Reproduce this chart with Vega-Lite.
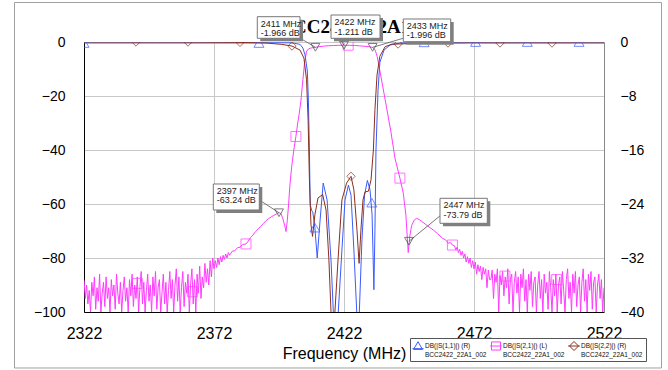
{
"$schema":"https://vega.github.io/schema/vega-lite/v6.json",
"width":520,"height":270,"autosize":"none",
"padding":{"left":84,"top":42,"right":64,"bottom":58},
"background":"white",
"config":{"view":{"stroke":"#999"},"font":"Liberation Sans"},
"datasets":{
"s21":[{"f":2322,"db":-88},{"f":2322.5,"db":-95},{"f":2323,"db":-90},{"f":2323.5,"db":-97},{"f":2324,"db":-92},{"f":2324.5,"db":-100},{"f":2325,"db":-89},{"f":2325.5,"db":-94},{"f":2326,"db":-87},{"f":2326.5,"db":-99},{"f":2327,"db":-91},{"f":2327.5,"db":-96},{"f":2328,"db":-86},{"f":2328.5,"db":-100},{"f":2329,"db":-93},{"f":2329.5,"db":-89},{"f":2330,"db":-98},{"f":2330.5,"db":-87},{"f":2331,"db":-95},{"f":2331.5,"db":-91},{"f":2332,"db":-100},{"f":2332.5,"db":-88},{"f":2333,"db":-94},{"f":2333.5,"db":-90},{"f":2334,"db":-99},{"f":2334.5,"db":-86},{"f":2335,"db":-93},{"f":2335.5,"db":-97},{"f":2336,"db":-89},{"f":2336.5,"db":-100},{"f":2337,"db":-92},{"f":2337.5,"db":-87},{"f":2338,"db":-96},{"f":2338.5,"db":-91},{"f":2339,"db":-100},{"f":2339.5,"db":-88},{"f":2340,"db":-94},{"f":2340.5,"db":-86},{"f":2341,"db":-98},{"f":2341.5,"db":-90},{"f":2342,"db":-95},{"f":2342.5,"db":-87},{"f":2343,"db":-100},{"f":2343.5,"db":-91},{"f":2344,"db":-85},{"f":2344.5,"db":-97},{"f":2345,"db":-89},{"f":2345.5,"db":-100},{"f":2346,"db":-92},{"f":2346.5,"db":-86},{"f":2347,"db":-96},{"f":2347.5,"db":-90},{"f":2348,"db":-100},{"f":2348.5,"db":-87},{"f":2349,"db":-94},{"f":2349.5,"db":-85},{"f":2350,"db":-99},{"f":2350.5,"db":-91},{"f":2351,"db":-88},{"f":2351.5,"db":-100},{"f":2352,"db":-93},{"f":2352.5,"db":-86},{"f":2353,"db":-97},{"f":2353.5,"db":-89},{"f":2354,"db":-100},{"f":2354.5,"db":-92},{"f":2355,"db":-85},{"f":2355.5,"db":-95},{"f":2356,"db":-88},{"f":2356.5,"db":-100},{"f":2357,"db":-90},{"f":2357.5,"db":-84},{"f":2358,"db":-96},{"f":2358.5,"db":-87},{"f":2359,"db":-100},{"f":2359.5,"db":-91},{"f":2360,"db":-85},{"f":2360.5,"db":-98},{"f":2361,"db":-89},{"f":2361.5,"db":-93},{"f":2362,"db":-86},{"f":2362.5,"db":-100},{"f":2363,"db":-90},{"f":2363.5,"db":-84},{"f":2364,"db":-97},{"f":2364.5,"db":-88},{"f":2365,"db":-100},{"f":2365.5,"db":-86},{"f":2366,"db":-93},{"f":2366.5,"db":-83},{"f":2367,"db":-95},{"f":2367.5,"db":-87},{"f":2368,"db":-91},{"f":2368.5,"db":-82},{"f":2369,"db":-89},{"f":2369.5,"db":-84},{"f":2370,"db":-90},{"f":2370.5,"db":-81},{"f":2371,"db":-87},{"f":2371.5,"db":-80},{"f":2372,"db":-84},{"f":2372.5,"db":-81},{"f":2373,"db":-83.5},{"f":2373.5,"db":-80},{"f":2374,"db":-82.5},{"f":2374.5,"db":-79.5},{"f":2375,"db":-81.5},{"f":2375.5,"db":-79},{"f":2376,"db":-80.5},{"f":2376.5,"db":-78.5},{"f":2377,"db":-80},{"f":2377.5,"db":-78},{"f":2378,"db":-79},{"f":2379,"db":-77.5},{"f":2380,"db":-77.3},{"f":2381,"db":-76.2},{"f":2382,"db":-76},{"f":2383,"db":-75},{"f":2384.3,"db":-74.8},{"f":2385,"db":-74},{"f":2386,"db":-72.5},{"f":2387,"db":-71.5},{"f":2388,"db":-70.2},{"f":2389,"db":-69.2},{"f":2390,"db":-68.3},{"f":2391,"db":-67.2},{"f":2392,"db":-66.2},{"f":2393,"db":-65.4},{"f":2394,"db":-64.8},{"f":2395,"db":-64.2},{"f":2396,"db":-63.7},{"f":2397,"db":-63.2},{"f":2397.8,"db":-63.6},{"f":2398.5,"db":-65.5},{"f":2399.2,"db":-68},{"f":2399.7,"db":-70.2},{"f":2400.2,"db":-66},{"f":2400.7,"db":-60},{"f":2401.2,"db":-53},{"f":2401.9,"db":-46},{"f":2402.7,"db":-40},{"f":2403.5,"db":-35},{"f":2404.2,"db":-30},{"f":2404.7,"db":-27},{"f":2405.4,"db":-22},{"f":2406.2,"db":-14},{"f":2406.8,"db":-8},{"f":2407.6,"db":-3.4},{"f":2408.3,"db":-2.6},{"f":2409,"db":-2.3},{"f":2410,"db":-2.1},{"f":2411,"db":-1.97},{"f":2412,"db":-1.8},{"f":2414,"db":-1.55},{"f":2416,"db":-1.4},{"f":2418,"db":-1.3},{"f":2420,"db":-1.23},{"f":2422,"db":-1.21},{"f":2424,"db":-1.23},{"f":2426,"db":-1.3},{"f":2428,"db":-1.42},{"f":2430,"db":-1.6},{"f":2432,"db":-1.8},{"f":2433,"db":-2.0},{"f":2434,"db":-3.0},{"f":2434.8,"db":-5.5},{"f":2435.8,"db":-10.7},{"f":2437,"db":-17},{"f":2438.4,"db":-24.4},{"f":2440,"db":-33},{"f":2441.6,"db":-43},{"f":2443.5,"db":-50.4},{"f":2444.8,"db":-56},{"f":2445.8,"db":-64},{"f":2446.7,"db":-78},{"f":2447.3,"db":-72},{"f":2448,"db":-68},{"f":2449,"db":-66},{"f":2449.9,"db":-65.3},{"f":2451,"db":-65.8},{"f":2452,"db":-66.5},{"f":2454,"db":-68},{"f":2456.3,"db":-69.6},{"f":2458,"db":-71},{"f":2460,"db":-72.8},{"f":2461,"db":-73.2},{"f":2462,"db":-74.5},{"f":2463,"db":-74.3},{"f":2463.7,"db":-75.2},{"f":2464.5,"db":-75.5},{"f":2465,"db":-77},{"f":2465.5,"db":-76},{"f":2466,"db":-78},{"f":2466.5,"db":-76.8},{"f":2467,"db":-79},{"f":2467.5,"db":-77.5},{"f":2468,"db":-80},{"f":2468.5,"db":-78.5},{"f":2469,"db":-81.5},{"f":2469.5,"db":-79.5},{"f":2470,"db":-82},{"f":2470.5,"db":-80},{"f":2471,"db":-83.5},{"f":2471.5,"db":-81},{"f":2472,"db":-84},{"f":2472.5,"db":-81.5},{"f":2473,"db":-86},{"f":2473.5,"db":-82.5},{"f":2474,"db":-85},{"f":2474.5,"db":-83},{"f":2475,"db":-88},{"f":2475.5,"db":-83.5},{"f":2476,"db":-86},{"f":2476.5,"db":-84},{"f":2477,"db":-91},{"f":2477.5,"db":-84.5},{"f":2478,"db":-88},{"f":2478.5,"db":-88},{"f":2479,"db":-84.5},{"f":2479.5,"db":-95},{"f":2480,"db":-86},{"f":2480.5,"db":-89},{"f":2481,"db":-84},{"f":2481.5,"db":-100},{"f":2482,"db":-86.5},{"f":2482.5,"db":-90},{"f":2483,"db":-85},{"f":2483.5,"db":-94},{"f":2484,"db":-87},{"f":2484.5,"db":-91},{"f":2485,"db":-84},{"f":2485.5,"db":-97},{"f":2486,"db":-88},{"f":2486.5,"db":-86},{"f":2487,"db":-100},{"f":2487.5,"db":-89},{"f":2488,"db":-85},{"f":2488.5,"db":-93},{"f":2489,"db":-87},{"f":2489.5,"db":-100},{"f":2490,"db":-86},{"f":2490.5,"db":-91},{"f":2491,"db":-84},{"f":2491.5,"db":-96},{"f":2492,"db":-88},{"f":2492.5,"db":-100},{"f":2493,"db":-86},{"f":2493.5,"db":-92},{"f":2494,"db":-85},{"f":2494.5,"db":-98},{"f":2495,"db":-89},{"f":2495.5,"db":-87},{"f":2496,"db":-100},{"f":2496.5,"db":-90},{"f":2497,"db":-85},{"f":2497.5,"db":-95},{"f":2498,"db":-88},{"f":2498.5,"db":-100},{"f":2499,"db":-86},{"f":2499.5,"db":-93},{"f":2500,"db":-89},{"f":2500.5,"db":-99},{"f":2501,"db":-85},{"f":2501.5,"db":-91},{"f":2502,"db":-100},{"f":2502.5,"db":-88},{"f":2503,"db":-94},{"f":2503.5,"db":-86},{"f":2504,"db":-100},{"f":2504.5,"db":-90},{"f":2505,"db":-87},{"f":2505.5,"db":-97},{"f":2506,"db":-85},{"f":2506.5,"db":-92},{"f":2507,"db":-100},{"f":2507.5,"db":-88},{"f":2508,"db":-84},{"f":2508.5,"db":-95},{"f":2509,"db":-89},{"f":2509.5,"db":-100},{"f":2510,"db":-86},{"f":2510.5,"db":-93},{"f":2511,"db":-85},{"f":2511.5,"db":-98},{"f":2512,"db":-90},{"f":2512.5,"db":-87},{"f":2513,"db":-100},{"f":2513.5,"db":-89},{"f":2514,"db":-84},{"f":2514.5,"db":-96},{"f":2515,"db":-88},{"f":2515.5,"db":-100},{"f":2516,"db":-86},{"f":2516.5,"db":-92},{"f":2517,"db":-85},{"f":2517.5,"db":-99},{"f":2518,"db":-89},{"f":2518.5,"db":-87},{"f":2519,"db":-100},{"f":2519.5,"db":-90},{"f":2520,"db":-86},{"f":2520.5,"db":-95},{"f":2521,"db":-88},{"f":2521.5,"db":-100},{"f":2522,"db":-91}],
"s11":[{"f":2322,"db":-0.15},{"f":2350,"db":-0.15},{"f":2380,"db":-0.15},{"f":2395,"db":-0.12},{"f":2401.2,"db":-0.12},{"f":2403,"db":-0.2},{"f":2405.1,"db":-0.35},{"f":2406.2,"db":-0.9},{"f":2407,"db":-1.9},{"f":2407.9,"db":-4.3},{"f":2408.3,"db":-8.6},{"f":2408.7,"db":-16},{"f":2409,"db":-24.1},{"f":2409.6,"db":-25},{"f":2410,"db":-25.2},{"f":2410.8,"db":-27.5},{"f":2411.7,"db":-32},{"f":2412.8,"db":-26.4},{"f":2414,"db":-20.9},{"f":2415.5,"db":-23.4},{"f":2417,"db":-32.3},{"f":2417.9,"db":-40},{"f":2418.8,"db":-50},{"f":2419.8,"db":-40},{"f":2421.2,"db":-30.8},{"f":2422.4,"db":-23.4},{"f":2423.7,"db":-21.2},{"f":2424.7,"db":-22.7},{"f":2425.8,"db":-30.8},{"f":2426.9,"db":-40},{"f":2427.4,"db":-50},{"f":2427.9,"db":-40},{"f":2428.9,"db":-29.3},{"f":2429.9,"db":-22.7},{"f":2431,"db":-20.5},{"f":2432,"db":-21.9},{"f":2432.8,"db":-25.6},{"f":2433.5,"db":-36.7},{"f":2433.9,"db":-27.9},{"f":2434.3,"db":-16},{"f":2435.1,"db":-7.1},{"f":2435.8,"db":-3},{"f":2437.4,"db":-1.2},{"f":2439.7,"db":-0.45},{"f":2443.5,"db":-0.15},{"f":2460,"db":-0.03},{"f":2490,"db":0},{"f":2522,"db":0}],
"s22":[{"f":2322,"db":0},{"f":2360,"db":0},{"f":2380,"db":-0.05},{"f":2392,"db":-0.15},{"f":2398,"db":-0.35},{"f":2402,"db":-0.6},{"f":2405.1,"db":-1.2},{"f":2406.6,"db":-2.4},{"f":2407.6,"db":-5.6},{"f":2408.2,"db":-11.6},{"f":2408.7,"db":-20.4},{"f":2409.3,"db":-27.1},{"f":2409.9,"db":-28.8},{"f":2410.8,"db":-25.6},{"f":2412,"db":-23.1},{"f":2413.8,"db":-22.6},{"f":2415.1,"db":-24.9},{"f":2416.2,"db":-32.3},{"f":2417,"db":-40},{"f":2417.8,"db":-46},{"f":2418.5,"db":-40},{"f":2419.7,"db":-32.3},{"f":2421.2,"db":-23.4},{"f":2423,"db":-20.9},{"f":2424.7,"db":-19.9},{"f":2425.8,"db":-21.9},{"f":2427,"db":-27.9},{"f":2427.8,"db":-32.8},{"f":2428.5,"db":-27.9},{"f":2429.3,"db":-23.4},{"f":2430.1,"db":-22.2},{"f":2431.4,"db":-22.1},{"f":2432.4,"db":-20.4},{"f":2433.3,"db":-16},{"f":2433.9,"db":-10},{"f":2434.7,"db":-4.9},{"f":2435.8,"db":-2.1},{"f":2437.8,"db":-0.7},{"f":2440.5,"db":-0.3},{"f":2442.8,"db":-0.3},{"f":2450,"db":-0.2},{"f":2470,"db":-0.15},{"f":2522,"db":-0.15}],
"mk21":[{"f":2342.5,"db":-89.4},{"f":2363.7,"db":-92.5},{"f":2384.3,"db":-74.8},{"f":2403.5,"db":-35},{"f":2423.6,"db":-1.2},{"f":2443.5,"db":-50.4},{"f":2463.7,"db":-75.2},{"f":2483.9,"db":-86.7},{"f":2503.8,"db":-88}],
"mk11":[{"f":2322,"db":-0.15},{"f":2389.3,"db":-0.15},{"f":2410.8,"db":-27.5},{"f":2432.7,"db":-23.8},{"f":2452.8,"db":-0.05},{"f":2472.6,"db":0},{"f":2492.5,"db":0},{"f":2512.4,"db":0}],
"mk22":[{"f":2342,"db":0},{"f":2362,"db":0},{"f":2382,"db":-0.05},{"f":2402,"db":-0.6},{"f":2424.7,"db":-19.9},{"f":2442.8,"db":-0.3},{"f":2462,"db":-0.15},{"f":2482,"db":-0.15},{"f":2502,"db":-0.15}],
"leg":[{"s":"DB(|S(1,1)|) (R)"},{"s":"DB(|S(2,1)|) (L)"},{"s":"DB(|S(2,2)|) (R)"}],
"ann":[
{"f":2411,"db":-1.966,"t":"2411 MHz\n-1.966 dB","bx1":2388.65,"bx2":2405.08,"by1":9.37,"by2":1.37,"lf":2405.08,"ldb":1.45},
{"f":2422,"db":-1.211,"t":"2422 MHz\n-1.211 dB","bx1":2417.0,"bx2":2435.85,"by1":10.0,"by2":1.37,"lf":2420.46,"ldb":1.37},
{"f":2433,"db":-1.996,"t":"2433 MHz\n-1.996 dB","bx1":2444.8,"bx2":2463.04,"by1":8.52,"by2":0.11,"lf":2444.8,"ldb":1.4},
{"f":2397,"db":-63.24,"t":"2397 MHz\n-63.24 dB","bx1":2371.73,"bx2":2389.42,"by1":-52.59,"by2":-62.22,"lf":2389.42,"ldb":-58.5},
{"f":2447,"db":-73.79,"t":"2447 MHz\n-73.79 dB","bx1":2458.92,"bx2":2477.12,"by1":-57.89,"by2":-67.15,"lf":2458.92,"ldb":-64.4}],
"frame":[{"f1":2295.27,"f2":2544.12,"d1":14.63,"d2":-120.74}],
"ttl":[{"f":2422.5,"db":3.15,"t":"BCC2422_22A1"}]
},
"layer":[
{"layer":[
 {"data":{"name":"s21"},"mark":{"type":"line","color":"#ff3cff","strokeWidth":1,"clip":true},
  "encoding":{
   "x":{"field":"f","type":"quantitative","scale":{"domain":[2322,2522],"nice":false,"zero":false},
        "axis":{"values":[2322,2372,2422,2472,2522],"format":"d","grid":true,"gridColor":"#c8c8c8","domainColor":"#000","ticks":false,"labelFontSize":16,"labelFont":"Liberation Sans","labelColor":"#000","labelPadding":13,"labelFlush":false,"labelOverlap":false,"title":"Frequency (MHz)","titleFontSize":16,"titleFontWeight":"normal","titleFont":"Liberation Sans","titleColor":"#000","titlePadding":4}},
   "y":{"field":"db","type":"quantitative","scale":{"domain":[-100,0],"nice":false,"zero":false},
        "axis":{"orient":"left","values":[-100,-80,-60,-40,-20,0],"grid":true,"gridColor":"#c8c8c8","domainColor":"#000","ticks":false,"labelFontSize":14,"labelFont":"Liberation Sans","labelColor":"#000","labelPadding":19,"title":null}}}},
 {"data":{"name":"mk21"},"mark":{"type":"point","shape":"square","size":100,"color":"#ff3cff","filled":false,"strokeWidth":1,"clip":true},
  "encoding":{"x":{"field":"f","type":"quantitative"},"y":{"field":"db","type":"quantitative"}}}
]},
{"layer":[
 {"data":{"name":"s11"},"mark":{"type":"line","color":"#3a5bff","strokeWidth":1,"clip":true},
  "encoding":{"x":{"field":"f","type":"quantitative"},
   "y":{"field":"db","type":"quantitative","scale":{"domain":[-40,0],"nice":false,"zero":false},
        "axis":{"orient":"right","values":[-40,-32,-24,-16,-8,0],"grid":false,"domainColor":"#888","ticks":false,"labelFontSize":14,"labelFont":"Liberation Sans","labelColor":"#000","labelPadding":16,"title":null}}}},
 {"data":{"name":"s22"},"mark":{"type":"line","color":"#8b2e1e","strokeWidth":1,"clip":true},
  "encoding":{"x":{"field":"f","type":"quantitative"},"y":{"field":"db","type":"quantitative"}}},
 {"data":{"name":"mk11"},"mark":{"type":"point","shape":"triangle-up","size":100,"color":"#3a5bff","filled":false,"strokeWidth":1,"clip":true},
  "encoding":{"x":{"field":"f","type":"quantitative"},"y":{"field":"db","type":"quantitative"}}},
 {"data":{"name":"mk22"},"mark":{"type":"point","shape":"diamond","size":70,"color":"#8b2e1e","filled":false,"strokeWidth":1,"clip":true},
  "encoding":{"x":{"field":"f","type":"quantitative"},"y":{"field":"db","type":"quantitative"}}},
 {"data":{"name":"leg"},"mark":{"type":"point","opacity":0,"filled":false},
  "encoding":{
   "color":{"field":"s","type":"nominal","scale":{"domain":["DB(|S(1,1)|) (R)","DB(|S(2,1)|) (L)","DB(|S(2,2)|) (R)"],"range":["#3a5bff","#ff3cff","#8b2e1e"]},
     "legend":{"title":null,"orient":"none","legendX":326,"legendY":296,"direction":"horizontal","columns":3,"columnPadding":1,"padding":3,"fillColor":"white","strokeColor":"#555","symbolSize":81,"symbolStrokeWidth":1,"symbolOpacity":1,"symbolFillColor":"transparent","labelFontSize":6.5,"labelFont":"Liberation Sans","labelColor":"#111","labelOffset":2,"labelLimit":120,"labelExpr":"[datum.label, 'BCC2422_22A1_002']"}},
   "shape":{"field":"s","type":"nominal","scale":{"domain":["DB(|S(1,1)|) (R)","DB(|S(2,1)|) (L)","DB(|S(2,2)|) (R)"],"range":["M-1.25,0.6H1.25M0,-0.95L1,0.75H-1Z","M-1.3,0H1.3M-1,-0.9H1V0.9H-1Z","M-1.3,0H1.3M0,-1L1,0L0,1L-1,0Z"]},
     "legend":{"title":null,"orient":"none","legendX":326,"legendY":296,"direction":"horizontal","columns":3,"columnPadding":1,"padding":3,"fillColor":"white","strokeColor":"#555","symbolSize":81,"symbolStrokeWidth":1,"symbolOpacity":1,"symbolFillColor":"transparent","labelFontSize":6.5,"labelFont":"Liberation Sans","labelColor":"#111","labelOffset":2,"labelLimit":120,"labelExpr":"[datum.label, 'BCC2422_22A1_002']"}}}}
]},
{"layer":[
 {"data":{"name":"frame"},"mark":{"type":"rect","fill":"transparent","stroke":"#a0a0a0","strokeWidth":1,"clip":false},
  "encoding":{"x":{"field":"f1","type":"quantitative"},"x2":{"field":"f2"},
   "y":{"field":"d1","type":"quantitative","scale":{"domain":[-100,0],"nice":false,"zero":false},"axis":null},"y2":{"field":"d2"}}},
 {"data":{"name":"ttl"},"mark":{"type":"text","font":"Liberation Serif","fontWeight":"bold","fontSize":19,"color":"#000","align":"center","baseline":"alphabetic","clip":false},
  "encoding":{"x":{"field":"f","type":"quantitative"},"y":{"field":"db","type":"quantitative"},"text":{"field":"t"}}},
 {"data":{"name":"ann"},"mark":{"type":"rule","color":"#555","strokeWidth":0.8,"clip":false},
  "encoding":{"x":{"field":"lf","type":"quantitative"},"x2":{"field":"f"},"y":{"field":"ldb","type":"quantitative"},"y2":{"field":"db"}}},
 {"data":{"name":"ann"},"mark":{"type":"point","shape":"triangle-down","size":80,"color":"#444","filled":false,"strokeWidth":1,"clip":false},
  "encoding":{"x":{"field":"f","type":"quantitative"},"y":{"field":"db","type":"quantitative"}}},
 {"data":{"name":"ann"},"mark":{"type":"rect","fill":"#808080","xOffset":3,"x2Offset":3,"yOffset":3,"y2Offset":3,"clip":false},
  "encoding":{"x":{"field":"bx1","type":"quantitative"},"x2":{"field":"bx2"},"y":{"field":"by1","type":"quantitative"},"y2":{"field":"by2"}}},
 {"data":{"name":"ann"},"mark":{"type":"rect","fill":"white","stroke":"#777","strokeWidth":1,"clip":false},
  "encoding":{"x":{"field":"bx1","type":"quantitative"},"x2":{"field":"bx2"},"y":{"field":"by1","type":"quantitative"},"y2":{"field":"by2"}}},
 {"data":{"name":"ann"},"mark":{"type":"text","font":"Liberation Sans","fontSize":9,"color":"#222","align":"left","baseline":"top","dx":3.5,"dy":3,"lineBreak":"\n","lineHeight":9.5,"clip":false},
  "encoding":{"x":{"field":"bx1","type":"quantitative"},"y":{"field":"by1","type":"quantitative"},"text":{"field":"t"}}}
]}
],
"resolve":{"scale":{"y":"independent"}}
}
